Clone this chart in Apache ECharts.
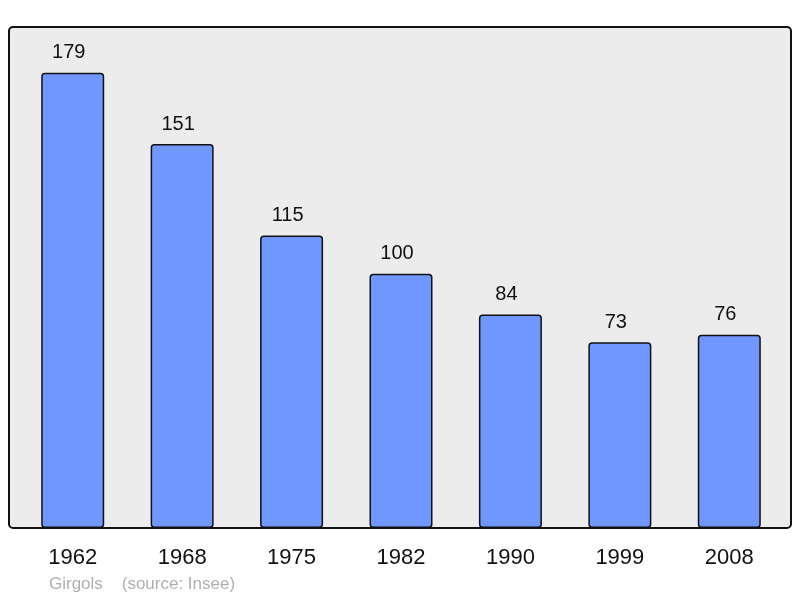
<!DOCTYPE html>
<html><head><meta charset="utf-8">
<script src="https://cdn.jsdelivr.net/npm/echarts@6/dist/echarts.min.js"></script>
<style>html,body{margin:0;padding:0;background:#fff}#c{width:800px;height:598px}</style>
</head><body><div id="c"></div>
<script>
const years = ['1962','1968','1975','1982','1990','1999','2008'];
const population = [179,151,115,100,84,73,76];
const footer = 'Girgols    (source: Insee)';

const chart = echarts.init(document.getElementById('c'), null, {renderer:'canvas'});
chart.setOption({
  animation:false,
  backgroundColor:'#ffffff',
  graphic:[
    {type:'rect', z:0, shape:{x:9,y:27,width:782,height:501,r:4}, style:{fill:'#ececec',stroke:'#111',lineWidth:2}},
    {type:'text', z:1, left:49, top:576, style:{text:footer, fill:'#b0b0b0', font:'17px "Liberation Sans", Arial, sans-serif'}}
  ],
  grid:{left:18,right:16,top:27,bottom:70},
  xAxis:{type:'category', data:years, axisLine:{show:false}, axisTick:{show:false},
    axisLabel:{color:'#111', fontSize:22, fontFamily:'Liberation Sans, Arial, sans-serif', margin:19}},
  yAxis:{type:'value', min:0, max:197, show:false, splitLine:{show:false}},
  series:[{type:'bar', data:population, barWidth:63, z:2,
    itemStyle:{color:'#7096ff', borderColor:'#111', borderWidth:1.5, borderRadius:3},
    label:{show:true, position:'top', distance:10, offset:[-4,0], color:'#111', fontSize:20, fontFamily:'Liberation Sans, Arial, sans-serif'}
  }]
});
</script></body></html>
